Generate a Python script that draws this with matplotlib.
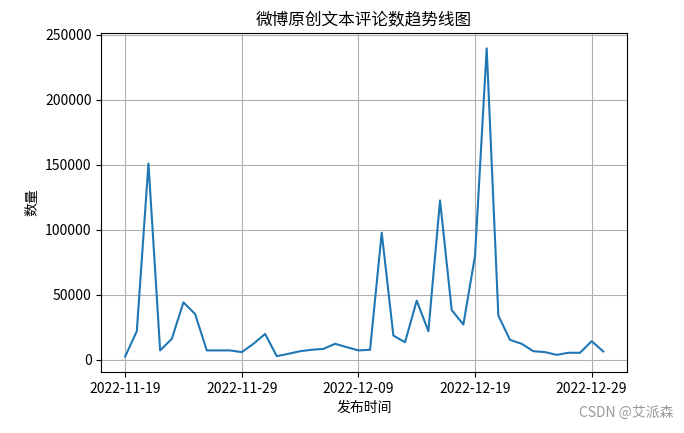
import matplotlib
matplotlib.use("Agg")
import matplotlib.pyplot as plt
import matplotlib.dates as mdates
import pandas as pd

plt.rcParams['font.family'] = ['Noto Sans CJK SC', 'DejaVu Sans']
plt.rcParams['axes.unicode_minus'] = False

dates = pd.date_range("2022-11-19", "2022-12-30", freq="D")
comments = [2500, 22000, 151000, 7200, 16100, 44200, 35200, 7200, 7200, 7200,
            5900, 12300, 19900, 2800, 4600, 6600, 7700, 8400, 12300, 9700,
            7200, 7700, 97800, 18600, 13500, 45500, 22000, 122600, 38300, 27100,
            80000, 239600, 34000, 15300, 12300, 6600, 5900, 3800, 5400, 5400,
            14300, 6400]
tick_dates = pd.to_datetime(["2022-11-19", "2022-11-29", "2022-12-09",
                             "2022-12-19", "2022-12-29"])

fig = plt.figure(figsize=(6.84, 4.33), dpi=100)
ax = fig.add_axes([0.148, 0.141, 0.769, 0.783])
ax.plot(dates, comments, color='#1f77b4', linewidth=1.5)
ax.set_xticks(tick_dates)
ax.xaxis.set_major_formatter(mdates.DateFormatter('%Y-%m-%d'))
ax.grid(True)
ax.set_title("微博原创文本评论数趋势线图", fontsize=12)
ax.set_xlabel("发布时间")
ax.set_ylabel("数量")

fig.text(0.985, 0.03, "CSDN @艾派森", ha='right', va='bottom',
         color='#999999', fontsize=10)

fig.savefig("out.png", dpi=100)
